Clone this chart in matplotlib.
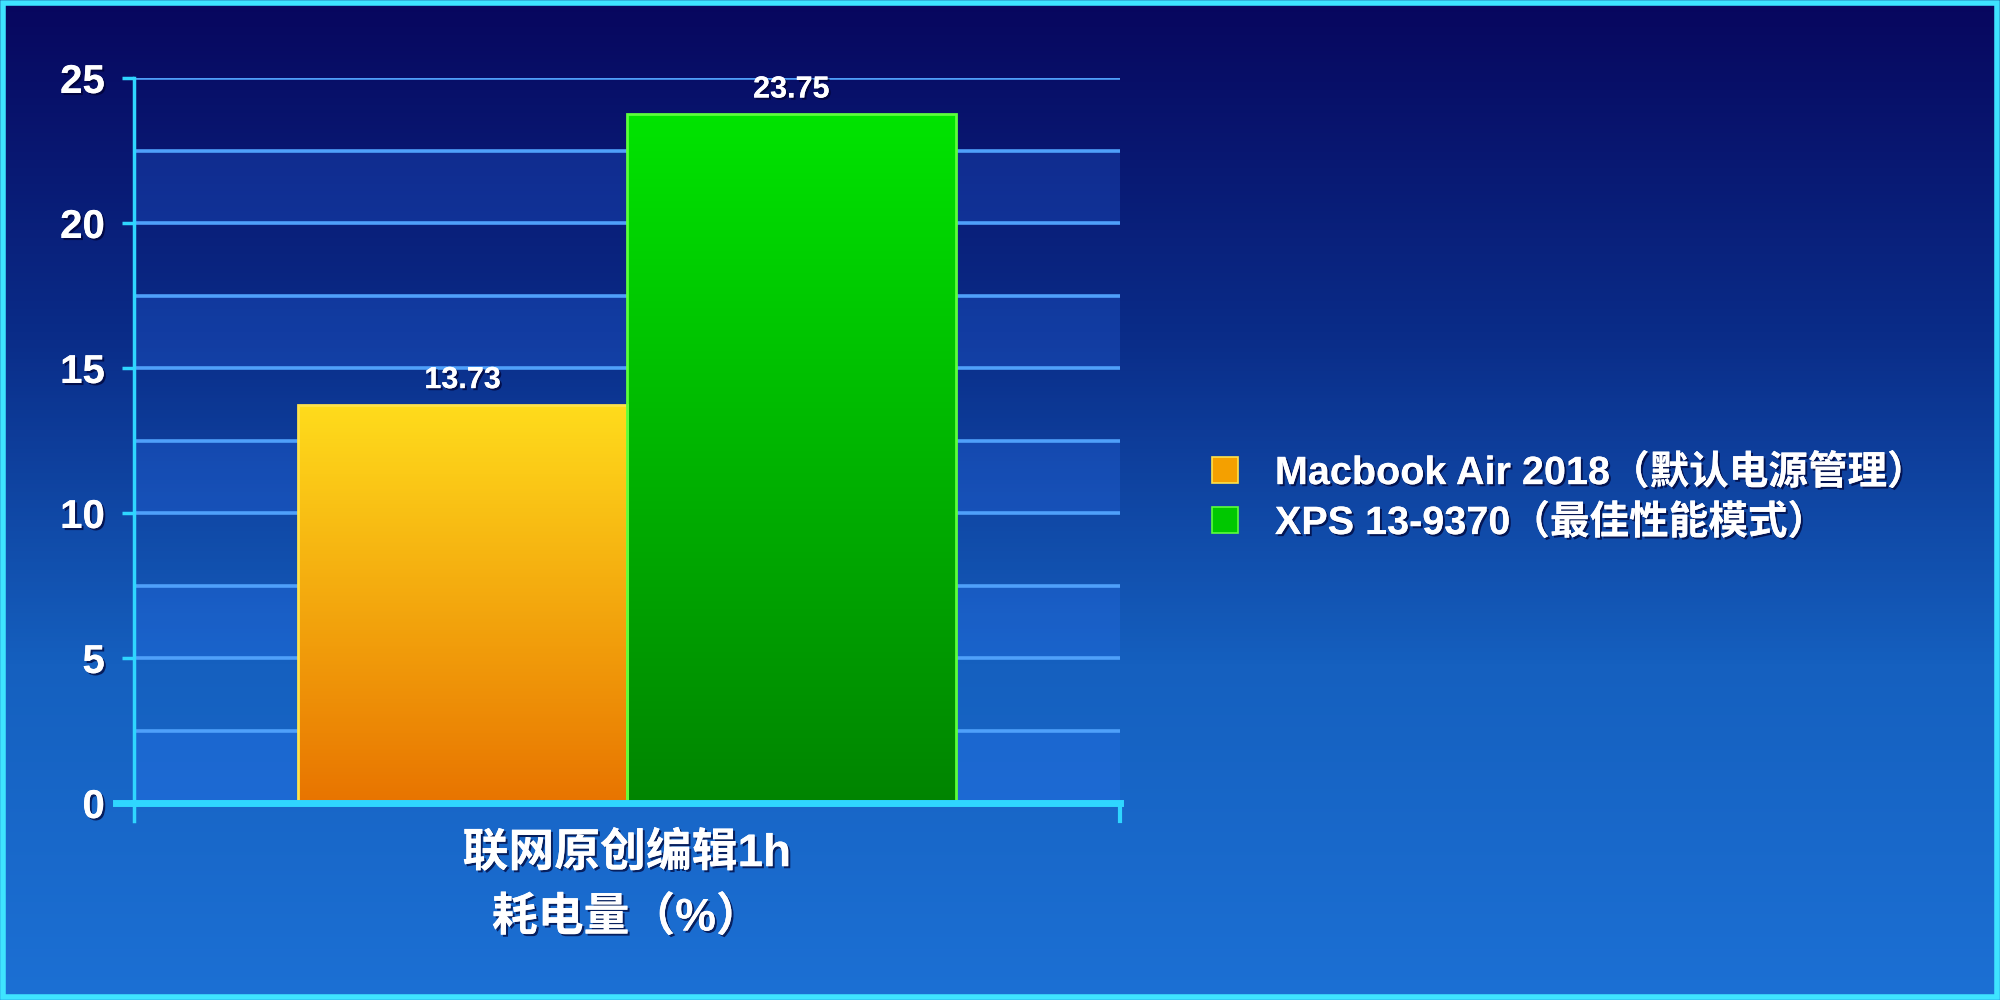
import matplotlib
matplotlib.use("Agg")
import matplotlib.pyplot as plt
import matplotlib.patheffects as pe
from matplotlib.colors import LinearSegmentedColormap
from matplotlib.lines import Line2D
from matplotlib.patches import Rectangle
import numpy as np

# data
categories = ["联网原创编辑1h\n耗电量（%）"]
series = ["Macbook Air 2018（默认电源管理）", "XPS 13-9370（最佳性能模式）"]
values = [13.73, 23.75]
yticks = [0, 5, 10, 15, 20, 25]
ygrid = [2.5, 5, 7.5, 10, 12.5, 15, 17.5, 20, 22.5, 25]

# colours
bar_grad = [("#ffdc1c", "#e87400"), ("#00e400", "#008400")]
bar_edge = ["#ffe24a", "#5cff3a"]
legend_col = ["#f4a000", "#00c800"]
cyan = "#2fd6ff"
grid_col = "#4fa0fa"

latin_cjk = ["Liberation Sans", "Noto Sans CJK SC"]
shadow = [pe.withSimplePatchShadow(offset=(1.5, -1.5), shadow_rgbFace="#000030", alpha=0.7), pe.Normal()]

fig = plt.figure(figsize=(20, 10), dpi=100)

# background gradient
bg = fig.add_axes([0, 0, 1, 1])
bg_cmap = LinearSegmentedColormap.from_list("bg", ["#07065e", "#0a2c88", "#1560bf", "#1c70d4"])
bg.imshow(np.linspace(0, 1, 256).reshape(-1, 1), aspect="auto", cmap=bg_cmap,
          extent=[0, 1, 0, 1], origin="upper")
bg.set_axis_off()
# cyan frame
fig.patches.append(Rectangle((0.0015, 0.003), 0.997, 0.994, transform=fig.transFigure,
                             fill=False, edgecolor="#3ee4ff", linewidth=4))

ax = fig.add_axes([0.067, 0.197, 0.493, 0.725])
ax.patch.set_alpha(0)

# lighter bands between gridlines
for lo in [0, 5, 10, 15, 20]:
    ax.axhspan(lo, lo + 2.5, color="#2f78ff", alpha=0.22, lw=0, zorder=0)
for g in ygrid:
    ax.axhline(g, color=grid_col, lw=2.6, zorder=1)

x = np.arange(len(categories))
width = 1 / 3
for i, (name, v) in enumerate(zip(series, values)):
    pos = x + (i - 0.5) * width
    bars = ax.bar(pos, [v], width, color="none", edgecolor=bar_edge[i], lw=2, zorder=3)
    cm = LinearSegmentedColormap.from_list("b%d" % i, list(bar_grad[i]))
    for b in bars:
        bx, by = b.get_x(), b.get_y()
        im = ax.imshow(np.linspace(0, 1, 256).reshape(-1, 1), cmap=cm, aspect="auto",
                       extent=[bx, bx + b.get_width(), by, by + b.get_height()],
                       origin="upper", zorder=2)
        im.set_clip_path(b)
        ax.annotate(f"{v:.2f}", (bx + b.get_width() / 2, by + b.get_height()),
                    xytext=(0, 7), textcoords="offset points", ha="center", va="bottom",
                    color="white", fontsize=22, fontweight="bold", family=latin_cjk,
                    path_effects=shadow, zorder=5)

ax.set_xlim(-0.5, 0.5)
ax.set_ylim(0, 25)

ax.set_yticks(yticks)
ax.set_yticklabels([str(t) for t in yticks])
ax.set_xticks(x)
ax.set_xticklabels(categories, linespacing=1.6)
ax.tick_params(axis="y", length=9, width=2.5, color=cyan, pad=12)
ax.tick_params(axis="x", length=0, pad=21)
for lab in ax.get_yticklabels():
    lab.set(color="white", fontsize=29, fontweight="bold", family=latin_cjk, path_effects=shadow)
for lab in ax.get_xticklabels():
    lab.set(color="white", fontsize=33, fontweight="bold", family=latin_cjk, path_effects=shadow)

for s in ["top", "right"]:
    ax.spines[s].set_visible(False)
ax.spines["left"].set_color(cyan)
ax.spines["left"].set_linewidth(2.5)
ax.spines["bottom"].set_color(cyan)
ax.spines["bottom"].set_linewidth(5)
ax.spines["bottom"].set_zorder(4)
# axis line stubs below zero, as in the original
ax.plot([0, 0], [0, -0.025], transform=ax.transAxes, color=cyan, lw=2.5, clip_on=False)
ax.plot([1, 1], [0, -0.025], transform=ax.transAxes, color=cyan, lw=3, clip_on=False)
ax.plot([-0.018, 0], [0, 0], transform=ax.transAxes, color=cyan, lw=5, clip_on=False)

handles = [Line2D([], [], ls="none", marker="s", markersize=19, markerfacecolor=c,
                  markeredgecolor="#ffe24a" if i == 0 else "#5cff3a", markeredgewidth=1.2)
           for i, c in enumerate(legend_col)]
leg = fig.legend(handles, series, loc="center left", bbox_to_anchor=(0.585, 0.502),
                 frameon=False, handlelength=1.0, handletextpad=0.75, labelspacing=0.3,
                 prop={"family": latin_cjk, "weight": "bold", "size": 28.5})
for t in leg.get_texts():
    t.set_color("white")
    t.set_path_effects(shadow)

fig.savefig("out.png", dpi=100)
